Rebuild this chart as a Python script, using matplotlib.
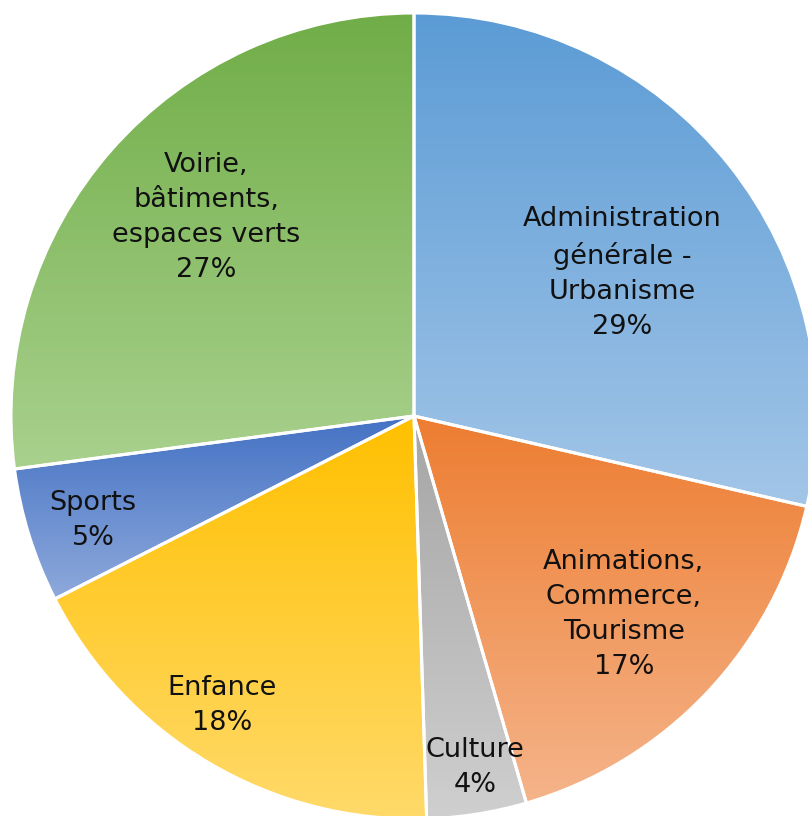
import numpy as np
import matplotlib
matplotlib.use("Agg")
import matplotlib.pyplot as plt
from matplotlib.colors import to_rgb

# budget shares (%), clockwise from 12 o'clock
categories = ["Administration\ngénérale -\nUrbanisme",
              "Animations,\nCommerce,\nTourisme",
              "Culture",
              "Enfance",
              "Sports",
              "Voirie,\nbâtiments,\nespaces verts"]
shares = [28.6, 16.9, 4.0, 18.0, 5.4, 27.1]

# gradient colours (top -> bottom of each slice)
top_colors = ["#5B9BD5", "#ED7D31", "#A5A5A5", "#FFC000", "#4472C4", "#70AD47"]
bottom_colors = ["#A3C6E8", "#F5B48A", "#CFCFCF", "#FFDA6A", "#8EA9DB", "#A9D18E"]
# label placement: distance (fraction of radius) and angle tweak (deg)
label_dist = [0.626, 0.716, 0.886, 0.861, 0.837, 0.714]
label_turn = [-4.0, 0.0, 0.8, -3.0, 0.7, -2.5]

W, H = 808, 816
cx, cy, R = 414, 400, 403

fig = plt.figure(figsize=(W / 100, H / 100), dpi=100)
ax = fig.add_axes([0, 0, 1, 1])

wedges, _ = ax.pie(shares, startangle=90, counterclock=False,
                   center=(cx, cy), radius=R, colors=top_colors,
                   wedgeprops=dict(edgecolor="white", linewidth=2.2))

for w, c1, c2 in zip(wedges, top_colors, bottom_colors):
    bb = w.get_path().get_extents()
    t = np.linspace(0, 1, 256)[:, None, None]
    grad = (1 - t) * np.array(to_rgb(c1)) + t * np.array(to_rgb(c2))
    im = ax.imshow(grad, extent=(bb.x0, bb.x1, bb.y0, bb.y1), origin="upper",
                   aspect="auto", zorder=1, interpolation="bilinear")
    im.set_clip_path(w)
    w.set_facecolor("none")
    w.set_zorder(2)

for w, name, val, d, turn in zip(wedges, categories, shares, label_dist, label_turn):
    mid = np.deg2rad((w.theta1 + w.theta2) / 2 + turn)
    x = cx + d * R * np.cos(mid)
    y = cy + d * R * np.sin(mid)
    ax.text(x, y, f"{name}\n{round(val):d}%", ha="center", va="center",
            fontsize=19.5, color="#111111", linespacing=1.45, zorder=3,
            family="DejaVu Sans")

ax.set_xlim(0, W)
ax.set_ylim(0, H)
ax.set_aspect("equal")
ax.axis("off")

fig.savefig("out.png", dpi=100, facecolor="white")
